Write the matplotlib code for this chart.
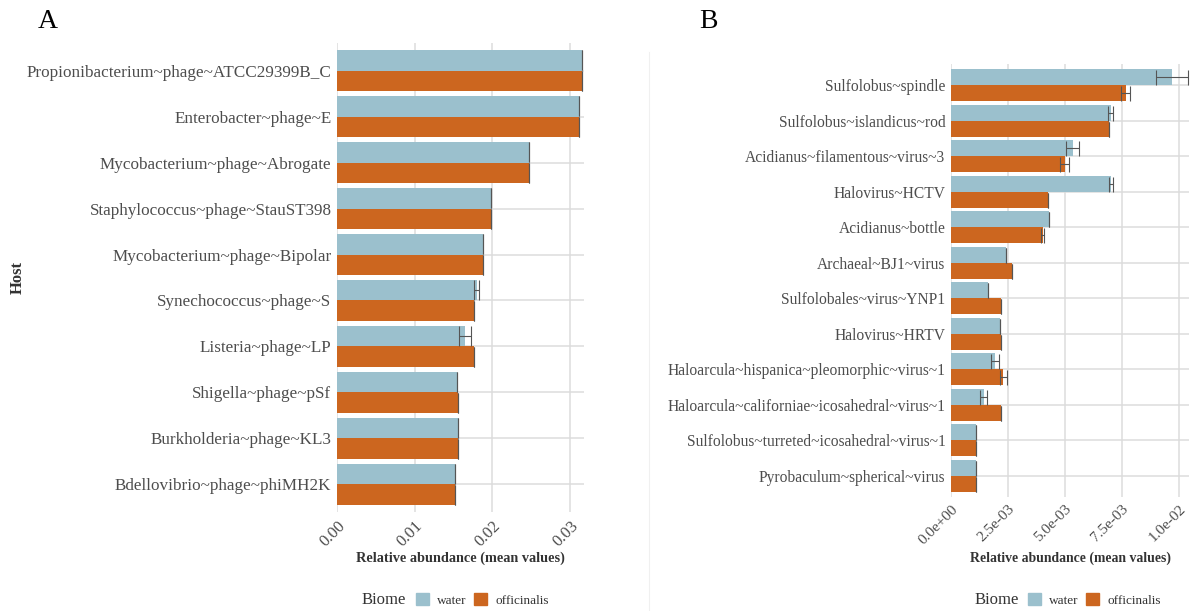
import numpy as np
import matplotlib
matplotlib.use("Agg")
from matplotlib import pyplot as plt
from matplotlib.patches import Patch

plt.rcParams['font.family'] = ['Liberation Serif', 'DejaVu Serif']

# panel A data (top to bottom)
hosts_a = ["Propionibacterium~phage~ATCC29399B_C", "Enterobacter~phage~E",
           "Mycobacterium~phage~Abrogate", "Staphylococcus~phage~StauST398",
           "Mycobacterium~phage~Bipolar", "Synechococcus~phage~S",
           "Listeria~phage~LP", "Shigella~phage~pSf",
           "Burkholderia~phage~KL3", "Bdellovibrio~phage~phiMH2K"]
water_a = [0.0316, 0.0311, 0.0247, 0.0198, 0.01875, 0.0180, 0.01647, 0.01544, 0.01553, 0.01523]
offic_a = [0.0316, 0.0311, 0.0247, 0.0198, 0.01875, 0.01767, 0.01767, 0.01557, 0.01557, 0.01523]
water_a_err = [0, 0, 0, 0, 0, 0.0003, 0.00077, 0, 0, 0]
offic_a_err = [0, 0, 0, 0, 0, 0, 0, 0, 0, 0]
ticks_a = [0, 0.01, 0.02, 0.03]
ticklabels_a = ["0.00", "0.01", "0.02", "0.03"]

# panel B data (top to bottom)
hosts_b = ["Sulfolobus~spindle", "Sulfolobus~islandicus~rod",
           "Acidianus~filamentous~virus~3", "Halovirus~HCTV", "Acidianus~bottle",
           "Archaeal~BJ1~virus", "Sulfolobales~virus~YNP1", "Halovirus~HRTV",
           "Haloarcula~hispanica~pleomorphic~virus~1",
           "Haloarcula~californiae~icosahedral~virus~1",
           "Sulfolobus~turreted~icosahedral~virus~1", "Pyrobaculum~spherical~virus"]
water_b = [9.68e-3, 7.0e-3, 5.34e-3, 7.02e-3, 4.28e-3, 2.4e-3, 1.61e-3, 2.15e-3, 1.93e-3, 1.43e-3, 1.1e-3, 1.1e-3]
offic_b = [7.66e-3, 6.94e-3, 4.99e-3, 4.27e-3, 4.02e-3, 2.66e-3, 2.18e-3, 2.18e-3, 2.29e-3, 2.18e-3, 1.1e-3, 1.1e-3]
water_b_err = [0.7e-3, 0.1e-3, 0.28e-3, 0.1e-3, 0, 0, 0, 0, 0.19e-3, 0.17e-3, 0, 0]
offic_b_err = [0.2e-3, 0, 0.2e-3, 0, 0.07e-3, 0, 0, 0, 0.15e-3, 0, 0, 0]
ticks_b = [0, 2.5e-3, 5e-3, 7.5e-3, 1e-2]
ticklabels_b = ["0.0e+00", "2.5e-03", "5.0e-03", "7.5e-03", "1.0e-02"]

WATER = "#9BC0CD"
OFFIC = "#CC661F"
W, H = 1196, 611

fig = plt.figure(figsize=(W / 100, H / 100), dpi=100)


def px_axes(left, top, right, bottom):
    return fig.add_axes([left / W, 1 - bottom / H, (right - left) / W, (bottom - top) / H])


def panel(ax, hosts, water, offic, werr, oerr, xlim, ticks, ticklabels, cap,
          ysize, xsize, tsize, tpad):
    y = np.arange(len(hosts))
    h = 0.45
    ax.barh(y - h / 2, water, height=h, color=WATER, zorder=2)
    ax.barh(y + h / 2, offic, height=h, color=OFFIC, zorder=2)
    ax.errorbar(water, y - h / 2, xerr=werr, fmt="none", ecolor="#555555",
                elinewidth=0.8, capsize=cap, capthick=0.8, zorder=3)
    ax.errorbar(offic, y + h / 2, xerr=oerr, fmt="none", ecolor="#555555",
                elinewidth=0.8, capsize=cap, capthick=0.8, zorder=3)
    ax.set_yticks(y)
    ax.set_yticklabels(hosts, fontsize=ysize, color="#4D4D4D")
    ax.set_ylim(len(hosts) - 0.4, -0.6)
    ax.set_xlim(*xlim)
    ax.set_xticks(ticks)
    ax.set_xticklabels(ticklabels, fontsize=xsize, color="#4D4D4D", rotation=45,
                       ha="right", va="top", rotation_mode="anchor")
    ax.tick_params(length=0, pad=4)
    ax.grid(True, color="#DCDCDC", linewidth=1.1, zorder=0)
    ax.set_axisbelow(True)
    for s in ax.spines.values():
        s.set_visible(False)
    ax.set_xlabel("Relative abundance (mean values)", fontsize=tsize,
                  fontweight="bold", color="#333333", labelpad=tpad)


ax_a = px_axes(337, 43, 584, 512)
panel(ax_a, hosts_a, water_a, offic_a, water_a_err, offic_a_err,
      (0, 0.0318), ticks_a, ticklabels_a, 7, 12.3, 12, 10.3, 1.5)
ax_a.set_ylabel("Host", fontsize=12, fontweight="bold", color="#333333")
ax_a.yaxis.set_label_coords((26 - 337) / 247, 0.5)

ax_b = px_axes(951, 64, 1189, 497)
panel(ax_b, hosts_b, water_b, offic_b, water_b_err, offic_b_err,
      (0, 10.44e-3), ticks_b, ticklabels_b, 5.4, 11.2, 11, 9.9, 3.7)

# panel letters and separator
fig.text(48 / W, 1 - 22 / H, "A", fontsize=20, ha="center", va="center")
fig.text(708 / W, 1 - 22 / H, "B", fontsize=20, ha="center", va="center")
fig.add_artist(plt.Line2D([649 / W, 649 / W], [0, 1 - 52 / H], color="#F0F0F0", linewidth=0.8))

# legends
handles = [Patch(color=WATER, label="water"), Patch(color=OFFIC, label="officinalis")]
for bx, lx in [(362, 409), (975, 1021)]:
    fig.text(bx / W, 1 - 600 / H, "Biome", fontsize=12, color="#333333", va="center")
    fig.legend(handles=handles, loc="center left", bbox_to_anchor=(lx / W, 1 - 600 / H),
               ncol=2, frameon=False, fontsize=9.5, handlelength=1.0, handleheight=1.0,
               handletextpad=0.6, columnspacing=0.6, borderpad=0, labelcolor="#333333")

fig.savefig("out.png", dpi=100)
